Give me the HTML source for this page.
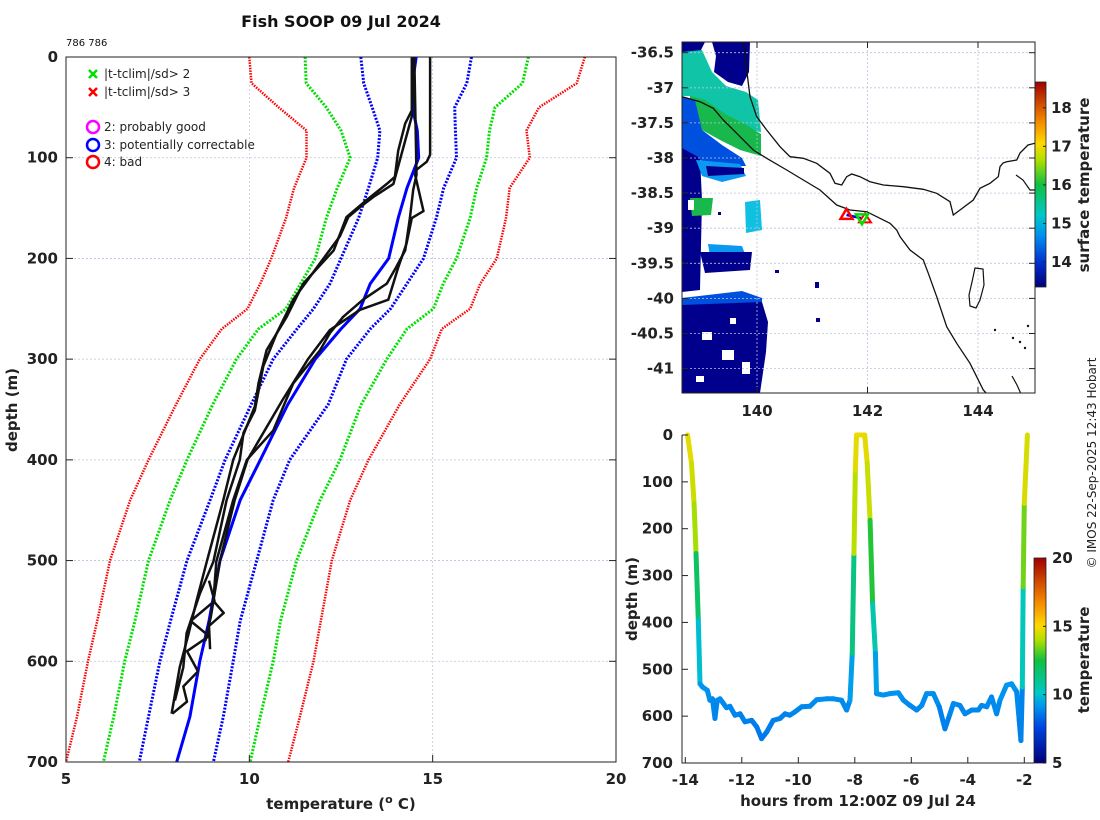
<!DOCTYPE html>
<html><head><meta charset="utf-8">
<style>
html,body{margin:0;padding:0;background:#fff;}
svg{display:block;font-family:"DejaVu Sans","Liberation Sans",sans-serif;}
.lb{font-weight:bold;font-size:15px;fill:#222;}
</style></head>
<body>
<svg id="fig" width="1100" height="820" viewBox="0 0 1100 820" xmlns="http://www.w3.org/2000/svg">
<defs>
<linearGradient id="sstcb" x1="0" y1="1" x2="0" y2="0">
<stop offset="0" stop-color="#00007a"/><stop offset="0.12" stop-color="#0030d0"/><stop offset="0.25" stop-color="#0090f0"/><stop offset="0.35" stop-color="#00c8c8"/><stop offset="0.5" stop-color="#10c040"/><stop offset="0.62" stop-color="#b0e000"/><stop offset="0.7" stop-color="#ffd800"/><stop offset="0.82" stop-color="#f08000"/><stop offset="1" stop-color="#a00000"/>
</linearGradient>
<linearGradient id="tcb" x1="0" y1="1" x2="0" y2="0">
<stop offset="0" stop-color="#00007a"/><stop offset="0.17" stop-color="#0040e0"/><stop offset="0.28" stop-color="#0098f0"/><stop offset="0.34" stop-color="#00c8c8"/><stop offset="0.5" stop-color="#10c040"/><stop offset="0.6" stop-color="#b0e000"/><stop offset="0.67" stop-color="#ffd800"/><stop offset="0.8" stop-color="#f08000"/><stop offset="1" stop-color="#a00000"/>
</linearGradient>
<clipPath id="mapclip"><rect x="682" y="42" width="353" height="351"/></clipPath>
</defs>

<text x="341" y="27" text-anchor="middle" font-weight="bold" font-size="16" fill="#111">Fish SOOP 09 Jul 2024</text>
<text x="66" y="46" font-size="10" fill="#111">786 786</text>

<g id="left"></g>
<g id="map"></g>
<g id="track"></g>

<text transform="translate(1096,463) rotate(-90)" text-anchor="middle" font-size="12" fill="#222">© IMOS 22-Sep-2025 12:43 Hobart</text>
</svg>

<script>
// ---------- data: temperature profile plot ----------
const climDepths = [0,26,50,73,100,130,160,200,225,250,270,300,345,400,440,500,560,600,655,700];
const red3Left   = [10.0,10.06,10.8,11.56,11.56,11.22,11.0,10.6,10.3,9.95,9.25,8.65,8.0,7.25,6.75,6.2,5.85,5.6,5.3,5.0];
const green2Left = [11.52,11.55,12.1,12.5,12.75,12.4,12.1,11.8,11.4,11.0,10.25,9.65,9.0,8.3,7.84,7.25,6.88,6.6,6.3,6.02];
const blue1Left  = [13.04,13.12,13.35,13.56,13.5,13.25,12.98,12.5,12.2,11.75,11.3,10.65,10.05,9.34,8.93,8.3,7.85,7.56,7.25,7.0];
const climMean   = [14.55,14.45,14.45,14.58,14.62,14.3,14.06,13.8,13.3,13.02,12.5,11.8,11.05,10.3,9.75,9.2,8.9,8.65,8.38,8.02];
const blue1Right = [16.06,15.93,15.6,15.62,15.65,15.3,15.1,14.75,14.3,13.85,13.3,12.65,12.15,11.1,10.65,10.2,9.75,9.56,9.29,9.02];
const green2Right= [17.61,17.45,16.7,16.55,16.47,16.2,16.02,15.65,15.29,15.02,14.3,13.75,13.05,12.47,11.93,11.29,10.85,10.65,10.3,10.02];
const red3Right  = [19.15,18.93,17.9,17.56,17.65,17.1,17.0,16.75,16.3,16.02,15.25,14.93,14.1,13.25,12.75,12.25,11.95,11.75,11.38,11.06];

const p1Depth = [0,97,104,112,117,153,160,185,209,241,251,271,300,341,400,440,500,556,580];
const p1Temp  = [14.93,14.93,14.84,14.56,14.52,14.75,14.43,14.29,14.06,13.79,13.02,12.2,11.6,10.9,9.95,9.6,9.2,8.95,8.8];
const p2Depth = [0,53,66,93,119,126,142,159,192,225,258,291,324,347,400,440,501,540,573,606,652];
const p2Temp  = [14.43,14.43,14.25,14.06,13.97,13.75,13.2,12.65,12.3,11.47,11.02,10.47,10.25,10.15,9.56,9.29,8.84,8.56,8.34,8.1,7.88];
const p3Depth = [0,117,132,160,192,209,225,241,258,274,291,324,345,371,400,440,501,540,552,565,588];
const p3Temp  = [14.5,14.56,14.47,14.38,14.25,14.0,13.75,13.1,12.56,12.2,11.93,11.2,10.95,10.65,9.93,9.56,9.1,9.02,9.3,8.9,8.93];
const p4Depth = [0,59,126,139,149,159,178,209,241,274,307,351,373,400,440,501,533,572,606,639];
const p4Temp  = [14.5,14.43,13.93,13.38,13.02,12.7,12.47,11.84,11.2,10.75,10.38,10.15,9.84,9.74,9.38,9.02,8.65,8.29,8.2,7.97];
const p5Depth = [520,540,560,575,590,610,625,640,652];
const p5Temp  = [8.9,9.05,8.4,8.9,8.3,8.6,8.2,8.3,7.9];

const tempTicks = [5,10,15,20];
const depthTicks = [0,100,200,300,400,500,600,700];

// ---------- data: map ----------
const lonTicks = [140,142,144];
const latTicks = [-36.5,-37,-37.5,-38,-38.5,-39,-39.5,-40,-40.5,-41];
const sstTicks = [14,15,16,17,18];
const shipLon = [141.62,141.9];
const shipLat = [-38.81,-38.86];

// ---------- data: track ----------
const trackHours = [-13.92,-13.78,-13.69,-13.62,-13.54,-13.48,-13.39,-13.22,-13.13,-13.04,-12.95,-12.87,-12.77,-12.65,-12.54,-12.42,-12.24,-12.06,-11.89,-11.65,-11.47,-11.30,-11.12,-10.89,-10.65,-10.47,-10.30,-10.12,-9.88,-9.59,-9.35,-9.00,-8.76,-8.47,-8.29,-8.17,-8.09,-8.03,-7.98,-7.94,-7.65,-7.56,-7.46,-7.37,-7.27,-7.23,-6.99,-6.76,-6.46,-6.28,-6.05,-5.81,-5.63,-5.46,-5.22,-5.01,-4.81,-4.63,-4.51,-4.28,-4.10,-3.86,-3.63,-3.51,-3.33,-3.16,-2.98,-2.86,-2.63,-2.45,-2.27,-2.18,-2.12,-2.07,-2.04,-2.00,-1.89];
const trackDepth = [0,61,146,253,395,531,538,545,566,563,605,566,563,573,582,579,598,595,612,609,623,648,634,609,605,595,598,591,580,579,565,563,563,566,587,566,466,253,75,0,0,61,182,360,466,552,555,552,550,566,577,587,577,552,552,580,627,595,573,577,595,587,587,577,580,559,595,566,534,531,548,609,652,538,324,146,0];
const profDepthForColor = [0,150,200,230,280,350,420,500,600,700];
const profTempForColor  = [14.8,14.2,13.9,13.5,12.5,11.5,10.5,9.4,8.8,8.4];
const trackDepthTicks = [0,100,200,300,400,500,600,700];
const hourTicks = [-14,-12,-10,-8,-6,-4,-2];
const tcbTicks = [5,10,15,20];

// ---------- helpers ----------
const NS = "http://www.w3.org/2000/svg";
function mk(parent, tag, attrs, text){
  const e = document.createElementNS(NS, tag);
  for (const k in attrs) e.setAttribute(k, attrs[k]);
  if (text !== undefined) e.textContent = text;
  parent.appendChild(e);
  return e;
}
function interp(xs, ys, x){
  if (x <= xs[0]) return ys[0];
  for (let i=1;i<xs.length;i++){ if (x <= xs[i]){ const f=(x-xs[i-1])/(xs[i]-xs[i-1]); return ys[i-1]+f*(ys[i]-ys[i-1]); } }
  return ys[ys.length-1];
}
function jet(v, lo, hi){
  const stops = [[0,[0,0,122]],[0.17,[0,64,224]],[0.28,[0,152,240]],[0.34,[0,200,200]],[0.5,[16,192,64]],[0.6,[176,224,0]],[0.67,[255,216,0]],[0.8,[240,128,0]],[1,[160,0,0]]];
  let f = Math.max(0, Math.min(1, (v-lo)/(hi-lo)));
  for (let i=1;i<stops.length;i++){
    if (f <= stops[i][0]){
      const a=stops[i-1], b=stops[i], g=(f-a[0])/(b[0]-a[0]);
      const c=a[1].map((x,j)=>Math.round(x+g*(b[1][j]-x)));
      return `rgb(${c[0]},${c[1]},${c[2]})`;
    }
  }
  return "rgb(160,0,0)";
}

// ---------- left profile plot ----------
(function(){
  const g = document.getElementById('left');
  const X0=66, X1=616, Y0=57, Y1=762;
  const xT = t => X0 + (t-5)*(X1-X0)/15;
  const yD = d => Y0 + d*(Y1-Y0)/700;
  depthTicks.forEach(d=>{
    if (d>0 && d<700){
      const l = mk(g,'line',{x1:X0,x2:X1,y1:yD(d),y2:yD(d),stroke:'#b8c4e0','stroke-width':0.8,'stroke-dasharray':'2,2'});
      
      
    }
  });
  tempTicks.forEach(t=>{
    if (t>5 && t<20){
      const l = mk(g,'line',{x1:xT(t),x2:xT(t),y1:Y0,y2:Y1,stroke:'#c8c8d8','stroke-width':0.8,'stroke-dasharray':'2,2'});
      
      
    }
  });
  function curve(ts, ds, color, width, dash, name){
    const pts = ts.map((t,i)=>xT(t).toFixed(1)+','+yD(ds[i]).toFixed(1)).join(' ');
    const p = mk(g,'polyline',{points:pts,fill:'none',stroke:color,'stroke-width':width,'stroke-linejoin':'round'});
    if (dash) p.setAttribute('stroke-dasharray',dash);
    
    
  }
  curve(red3Left, climDepths,'#ff0000',2.5,'1.5,1.2','clim-minus-3sd-line');
  curve(green2Left, climDepths,'#00e000',3,'2,1.5','clim-minus-2sd-line');
  curve(blue1Left, climDepths,'#0000ff',3,'2,1.5','clim-minus-1sd-line');
  curve(blue1Right, climDepths,'#0000ff',3,'2,1.5','clim-plus-1sd-line');
  curve(green2Right, climDepths,'#00e000',3,'2,1.5','clim-plus-2sd-line');
  curve(red3Right, climDepths,'#ff0000',2.5,'1.5,1.2','clim-plus-3sd-line');
  curve(climMean, climDepths,'#0000ff',3,null,'climatology-mean-line');
  curve(p1Temp,p1Depth,'#111',2.5,null,'profile-1-line');
  curve(p2Temp,p2Depth,'#111',2.5,null,'profile-2-line');
  curve(p3Temp,p3Depth,'#111',2.5,null,'profile-3-line');
  curve(p4Temp,p4Depth,'#111',2.5,null,'profile-4-line');
  curve(p5Temp,p5Depth,'#111',2.5,null,'profile-5-line');
  const fr = mk(g,'rect',{x:X0,y:Y0,width:X1-X0,height:Y1-Y0,fill:'none',stroke:'#222','stroke-width':1});
  
  
  depthTicks.forEach(d=>{
    mk(g,'line',{x1:X0,x2:X0+7,y1:yD(d),y2:yD(d),stroke:'#222'});
    mk(g,'line',{x1:X1-7,x2:X1,y1:yD(d),y2:yD(d),stroke:'#222'});
    const t = mk(g,'text',{x:X0-8,y:yD(d)+5,'text-anchor':'end',class:'lb'},String(d));
    
    
  });
  tempTicks.forEach(v=>{
    mk(g,'line',{x1:xT(v),x2:xT(v),y1:Y1-7,y2:Y1,stroke:'#222'});
    const t = mk(g,'text',{x:xT(v),y:Y1+22,'text-anchor':'middle',class:'lb'},String(v));
    
    
  });
  const xl = mk(g,'text',{x:341,y:809,'text-anchor':'middle',class:'lb'});
  xl.innerHTML = 'temperature (<tspan dy="-6" font-size="11">o</tspan><tspan dy="6"> C)</tspan>';
  
  
  const yl = mk(g,'text',{transform:'translate(17,410) rotate(-90)','text-anchor':'middle',class:'lb'},'depth (m)');
  
  
  const lg = mk(g,'g',{});
  
  
  function xmark(cx,cy,col){ mk(lg,'path',{d:`M${cx-4},${cy-4}L${cx+4},${cy+4}M${cx+4},${cy-4}L${cx-4},${cy+4}`,stroke:col,'stroke-width':2.5}); }
  xmark(93,74,'#00e000'); xmark(93,92,'#ff0000');
  mk(lg,'text',{x:104,y:78,'font-size':12,fill:'#222'},'|t-tclim|/sd> 2');
  mk(lg,'text',{x:104,y:96,'font-size':12,fill:'#222'},'|t-tclim|/sd> 3');
  mk(lg,'circle',{cx:93,cy:127,r:6,fill:'none',stroke:'#ff00ff','stroke-width':2.5});
  mk(lg,'circle',{cx:93,cy:145,r:6,fill:'none',stroke:'#0000ff','stroke-width':2.5});
  mk(lg,'circle',{cx:93,cy:162,r:6,fill:'none',stroke:'#ff0000','stroke-width':2.5});
  mk(lg,'text',{x:104,y:131,'font-size':12,fill:'#222'},'2: probably good');
  mk(lg,'text',{x:104,y:149,'font-size':12,fill:'#222'},'3: potentially correctable');
  mk(lg,'text',{x:104,y:166,'font-size':12,fill:'#222'},'4: bad');
})();

// ---------- map ----------
(function(){
  const g = document.getElementById('map');
  const X0=682, X1=1035, Y0=42, Y1=393;
  const xL = l => 757 + (l-140)*55.25;
  const yL = l => 52.7 + (-36.5 - l)*70.2;
  const inner = mk(g,'g',{'clip-path':'url(#mapclip)'});
  const navy='#00008c', blue='#0050e0', lb='#0a98f0', teal='#10c4a8', green='#18b84c', cyan='#10c0e0';
  const patches = [
    [navy,'682,42 705,42 700,52 682,52'],
    [navy,'712,42 750,42 749,72 742,86 728,82 714,72 716,56'],
    [teal,'682,52 702,50 712,72 726,86 746,92 758,100 761,132 745,130 730,121 715,110 700,100 690,96 682,96'],
    [green,'690,96 705,100 725,114 745,124 761,134 761,156 740,150 720,140 702,130 690,120'],
    [blue,'682,96 695,100 702,130 722,145 742,158 746,166 720,166 700,160 690,166 682,170'],
    [navy,'682,148 700,158 702,200 700,290 682,292'],
    [lb,'696,160 740,164 746,176 722,182 702,176'],
    [navy,'706,166 744,168 744,174 708,176'],
    [green,'690,198 713,198 711,215 692,216'],
    [cyan,'745,202 760,200 762,230 746,233'],
    [lb,'708,244 742,246 745,254 710,256'],
    [navy,'700,252 752,252 750,270 705,273'],
    [blue,'682,298 742,291 762,298 762,306 682,312'],
    [navy,'682,305 762,302 768,322 766,352 760,393 682,393']
  ];
  patches.forEach(p=>{
    const e = mk(inner,'polygon',{points:p[1],fill:p[0]});
    
    
  });
  [[702,332,10,8],[722,350,12,10],[742,362,8,12],[696,376,8,6],[730,318,6,6],[688,200,6,10]].forEach(r=>{
    mk(inner,'rect',{x:r[0],y:r[1],width:r[2],height:r[3],fill:'#fff'});
  });
  [[815,282,4,6],[816,318,4,4],[775,270,4,3],[718,212,3,3]].forEach(r=>{
    mk(inner,'rect',{x:r[0],y:r[1],width:r[2],height:r[3],fill:navy});
  });
  lonTicks.forEach(l=>{
    const e = mk(inner,'line',{x1:xL(l),x2:xL(l),y1:Y0,y2:Y1,stroke:'#b8c4e0','stroke-width':0.8,'stroke-dasharray':'2,2'});
    
    
  });
  latTicks.forEach(l=>{
    const e = mk(inner,'line',{x1:X0,x2:X1,y1:yL(l),y2:yL(l),stroke:'#b8c4e0','stroke-width':0.8,'stroke-dasharray':'2,2'});
    
    
  });
  const c1 = mk(inner,'polyline',{points:'743,41 746.7,70 750,96.7 756.7,116.7 766.7,130 780,146.7 790,156.7 803.3,158.3 816.7,163.3 830,173.3 835,183.3 841.7,185 846.7,176.7 851.7,174 860,176.7 870,181.7 883.3,185 903.3,186.7 923.3,189.3 936.7,193.3 950,201.7 953.3,215 960,210 973.3,200 980,188.3 990,183.3 998.3,176.7 1000,166.7 1003,163 1006.7,161.7 1016.7,160 1020,153 1028,145 1036,143',fill:'none',stroke:'#111','stroke-width':1.3});
  
  
  mk(inner,'polyline',{points:'1016,175 1023,180 1030,190 1036,190',fill:'none',stroke:'#111','stroke-width':1.2});
  const c2 = mk(inner,'polyline',{points:'682,96.7 700,101.7 713.3,108.3 723.3,120 736.7,133.3 753.3,150 766.7,158.3 786.7,170 803.3,180 820,190 836.7,205 850,210 866.7,211.7 876.7,216.7 890,223.3 896.7,230 900,236.7 910,250 923.3,260 928.3,273.3 936.7,296.7 946.7,326.7 956.7,343.3 970,363.3 983.3,390 987,394',fill:'none',stroke:'#111','stroke-width':1.3});
  
  
  mk(inner,'polyline',{points:'1012,376 1017,385 1021,394',fill:'none',stroke:'#111','stroke-width':1.2});
  const isl = mk(inner,'polygon',{points:'975,268 983,269 984,285 980,300 976,308 970,306 969,295 972,282',fill:'none',stroke:'#111','stroke-width':1.2});
  
  
  [[995,330],[1013,338],[1020,342],[1025,348],[1028,326]].forEach(p=>mk(inner,'circle',{cx:p[0],cy:p[1],r:1.2,fill:'#111'}));
  const tr = mk(inner,'line',{x1:xL(shipLon[0]),y1:yL(shipLat[0]),x2:xL(shipLon[1]),y2:yL(shipLat[1]),stroke:'#0000ff','stroke-width':2.5});
  
  
  const sx=xL(shipLon[0]), sy=yL(shipLat[0]);
  const m1 = mk(inner,'polygon',{points:`${sx},${sy-6} ${sx+6},${sy+4} ${sx-6},${sy+4}`,fill:'none',stroke:'#ff0000','stroke-width':2.5});
  
  
  const ex=xL(shipLon[1]), ey=yL(shipLat[1]);
  mk(inner,'polygon',{points:`${ex+3},${ey-5} ${ex+9},${ey+4} ${ex-3},${ey+4}`,fill:'none',stroke:'#ff0000','stroke-width':2});
  const m2 = mk(inner,'polygon',{points:`${ex-6},${ey-4} ${ex+6},${ey-4} ${ex},${ey+6}`,fill:'none',stroke:'#00e000','stroke-width':2.5});
  
  
  const fr = mk(g,'rect',{x:X0,y:Y0,width:X1-X0,height:Y1-Y0,fill:'none',stroke:'#222','stroke-width':1});
  
  
  lonTicks.forEach(l=>{
    mk(g,'line',{x1:xL(l),x2:xL(l),y1:Y1-6,y2:Y1,stroke:'#222'});
    mk(g,'line',{x1:xL(l),x2:xL(l),y1:Y0,y2:Y0+6,stroke:'#222'});
    const t = mk(g,'text',{x:xL(l),y:Y1+23,'text-anchor':'middle',class:'lb'},String(l));
    
    
  });
  latTicks.forEach(l=>{
    mk(g,'line',{x1:X0,x2:X0+6,y1:yL(l),y2:yL(l),stroke:'#222'});
    mk(g,'line',{x1:X1-6,x2:X1,y1:yL(l),y2:yL(l),stroke:'#222'});
    const t = mk(g,'text',{x:X0-8,y:yL(l)+5,'text-anchor':'end',class:'lb'},String(l));
    
    
  });
  const CB0=82, CB1=287, lo=13.35, hi=18.67;
  const ycb = v => CB1 - (v-lo)/(hi-lo)*(CB1-CB0);
  const cb = mk(g,'rect',{x:1035,y:CB0,width:11,height:CB1-CB0,fill:'url(#sstcb)',stroke:'#222','stroke-width':0.8});
  
  
  sstTicks.forEach(v=>{
    mk(g,'line',{x1:1043,x2:1046,y1:ycb(v),y2:ycb(v),stroke:'#222'});
    const t = mk(g,'text',{x:1051,y:ycb(v)+5,class:'lb'},String(v));
    
    
  });
  const ct = mk(g,'text',{transform:'translate(1089,185) rotate(-90)','text-anchor':'middle',class:'lb'},'surface temperature');
  
  
})();

// ---------- depth track ----------
(function(){
  const g = document.getElementById('track');
  const X0=682, X1=1034, Y0=435, Y1=763;
  const xH = h => 685.3 + (h+14)*28.25;
  const yB = d => Y0 + d*(Y1-Y0)/700;
  for (let i=1;i<trackHours.length;i++){
    const dm = (trackDepth[i]+trackDepth[i-1])/2;
    const col = jet(interp(profDepthForColor, profTempForColor, dm), 5, 20);
    const s = mk(g,'line',{x1:xH(trackHours[i-1]),y1:yB(trackDepth[i-1]),x2:xH(trackHours[i]),y2:yB(trackDepth[i]),stroke:col,'stroke-width':5,'stroke-linecap':'round'});
    
    
  }
  const ax = mk(g,'polyline',{points:`${X0},${Y0} ${X0},${Y1} ${X1},${Y1}`,fill:'none',stroke:'#222','stroke-width':1});
  
  
  trackDepthTicks.forEach(d=>{
    mk(g,'line',{x1:X0,x2:X0+6,y1:yB(d),y2:yB(d),stroke:'#222'});
    const t = mk(g,'text',{x:X0-9,y:yB(d)+5,'text-anchor':'end',class:'lb'},String(d));
    
    
  });
  hourTicks.forEach(h=>{
    mk(g,'line',{x1:xH(h),x2:xH(h),y1:Y1-6,y2:Y1,stroke:'#222'});
    const t = mk(g,'text',{x:xH(h),y:Y1+22,'text-anchor':'middle',class:'lb'},String(h));
    
    
  });
  const xl = mk(g,'text',{x:858,y:806,'text-anchor':'middle',class:'lb','font-size':'16'},'hours from 12:00Z 09 Jul 24');
  
  
  const yl = mk(g,'text',{transform:'translate(637,599) rotate(-90)','text-anchor':'middle',class:'lb'},'depth (m)');
  
  
  const CB0=558, CB1=763;
  const ycb = v => CB1 - (v-5)/15*(CB1-CB0);
  const cb = mk(g,'rect',{x:1034,y:CB0,width:12,height:CB1-CB0,fill:'url(#tcb)',stroke:'#222','stroke-width':0.8});
  
  
  tcbTicks.forEach(v=>{
    mk(g,'line',{x1:1043,x2:1046,y1:ycb(v),y2:ycb(v),stroke:'#222'});
    const t = mk(g,'text',{x:1052,y:ycb(v)+5,class:'lb'},String(v));
    
    
  });
  const ct = mk(g,'text',{transform:'translate(1089,660) rotate(-90)','text-anchor':'middle',class:'lb'},'temperature');
  
  
})();
</script>
</body></html>
